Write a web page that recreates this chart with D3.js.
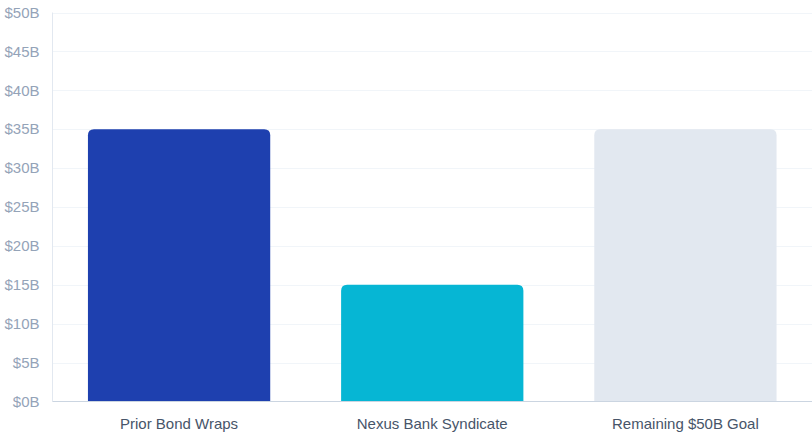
<!DOCTYPE html>
<html><head><meta charset="utf-8">
<script src="https://cdn.jsdelivr.net/npm/d3@7"></script>
<style>
html,body{margin:0;padding:0;background:#fff;}
svg{display:block;font-family:"Liberation Sans",Arial,Helvetica,sans-serif;}
</style></head>
<body><svg id="c" width="812" height="437"></svg>
<script>
const categories = ["Prior Bond Wraps", "Nexus Bank Syndicate", "Remaining $50B Goal"];
const values = [35, 15, 35];
const barColors = ["#1e40af", "#06b6d4", "#e2e8f0"];
const yTicks = [0, 5, 10, 15, 20, 25, 30, 35, 40, 45, 50];

const svg = d3.select("#c");
const m = {l: 52.5, r: 812, t: 12.5, b: 401.5};
const x = d3.scaleBand().domain(categories).range([m.l, m.r]).paddingInner(0).paddingOuter(0);
const y = d3.scaleLinear().domain([0, 50]).range([m.b, m.t]);

// grid
svg.append("g").selectAll("line").data(yTicks.filter(d => d > 0)).join("line")
  .attr("x1", m.l).attr("x2", m.r)
  .attr("y1", d => Math.round(y(d)) + 0.5).attr("y2", d => Math.round(y(d)) + 0.5)
  .attr("stroke", "#f1f5f9").attr("stroke-width", 1);

// bars
const bw = x.bandwidth() * 0.72;
const r = 6;
svg.append("g").selectAll("path").data(categories).join("path")
  .attr("d", (c, i) => {
    const x0 = x(c) + (x.bandwidth() - bw) / 2, x1 = x0 + bw;
    const y0 = y(values[i]), y1 = y(0);
    return `M${x0},${y1}V${y0 + r}Q${x0},${y0} ${x0 + r},${y0}H${x1 - r}Q${x1},${y0} ${x1},${y0 + r}V${y1}Z`;
  })
  .attr("fill", (c, i) => barColors[i]);

// left axis line
svg.append("line").attr("x1", m.l).attr("x2", m.l).attr("y1", m.t).attr("y2", m.b)
  .attr("stroke", "#e2e8f0").attr("stroke-width", 1);
// bottom axis line
svg.append("line").attr("x1", m.l).attr("x2", m.r).attr("y1", m.b).attr("y2", m.b)
  .attr("stroke", "#cbd5e1").attr("stroke-width", 1);

// y labels
svg.append("g").selectAll("text").data(yTicks).join("text")
  .attr("x", 39.5).attr("y", d => y(d)).attr("dy", "0.35em")
  .attr("text-anchor", "end").attr("fill", "#94a3b8").attr("font-size", 15)
  .text(d => `$${d}B`);

// x labels
svg.append("g").selectAll("text").data(categories).join("text")
  .attr("x", c => x(c) + x.bandwidth() / 2).attr("y", 424).attr("dy", "0.35em")
  .attr("text-anchor", "middle").attr("fill", "#475569").attr("font-size", 15)
  .text(c => c);
</script></body></html>
